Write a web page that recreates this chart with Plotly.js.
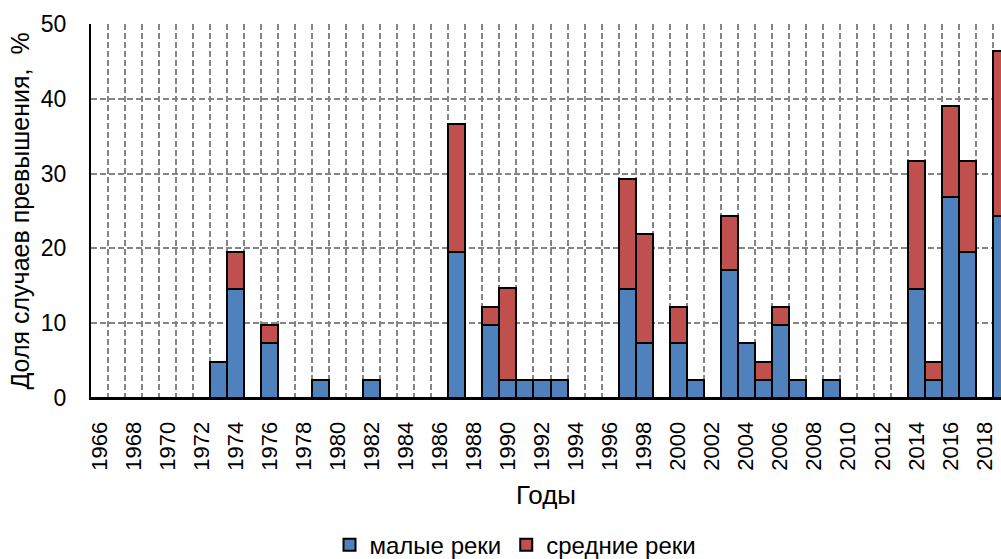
<!DOCTYPE html>
<html>
<head>
<meta charset="utf-8">
<script src="https://cdn.plot.ly/plotly-3.0.1.min.js"></script>
<style>html,body{margin:0;padding:0;background:#fff;}#chart{width:1001px;height:559px;}</style>
</head>
<body>
<div id="chart"></div>
<script>
const years = [1966,1967,1968,1969,1970,1971,1972,1973,1974,1975,1976,1977,1978,1979,1980,1981,1982,1983,1984,1985,1986,1987,1988,1989,1990,1991,1992,1993,1994,1995,1996,1997,1998,1999,2000,2001,2002,2003,2004,2005,2006,2007,2008,2009,2010,2011,2012,2013,2014,2015,2016,2017,2018,2019];
const smallRivers = [0,0,0,0,0,0,0,4.88,14.63,0,7.32,0,0,2.44,0,0,2.44,0,0,0,0,19.51,0,9.76,2.44,2.44,2.44,2.44,0,0,0,14.63,7.32,0,7.32,2.44,0,17.07,7.32,2.44,9.76,2.44,0,2.44,0,0,0,0,14.63,2.44,26.83,19.51,0,24.39];
const mediumRivers = [0,0,0,0,0,0,0,0,4.88,0,2.44,0,0,0,0,0,0,0,0,0,0,17.07,0,2.44,12.20,0,0,0,0,0,0,14.63,14.63,0,4.88,0,0,7.32,0,2.44,2.44,0,0,0,0,0,0,0,17.07,2.44,12.20,12.20,0,21.95];
const tickYears = [1966,1968,1970,1972,1974,1976,1978,1980,1982,1984,1986,1988,1990,1992,1994,1996,1998,2000,2002,2004,2006,2008,2010,2012,2014,2016,2018];
const tickLabels = ["1966","1968","1970","1972","1974","1976","1978","1980","1982","1984","1986","1988","1990","1992","1994","1996","1998","2000","2002","2004","2006","2008","2010","2012","2014","2016","2018"];
const seriesNames = ["малые реки", "средние реки"];

const FONT = "Liberation Sans, Arial, sans-serif";
const gridColor = "#858585";

const traces = [
  {type:"bar", x: years, y: smallRivers, name: seriesNames[0],
   marker:{color:"#4F81BD", line:{color:"#000", width:2}}},
  {type:"bar", x: years, y: mediumRivers, name: seriesNames[1],
   marker:{color:"#C0504D", line:{color:"#000", width:2}}}
];

const layout = {
  width:1001, height:559,
  margin:{l:91, r:0, t:24, b:161},
  paper_bgcolor:"#fff", plot_bgcolor:"#fff",
  font:{family:FONT, color:"#000", size:20},
  barmode:"stack", bargap:0,
  showlegend:true,
  legend:{orientation:"h", xref:"container", yref:"container", x:0.515, xanchor:"center", y:0.025, yanchor:"middle",
          font:{family:FONT, size:24, color:"#000"}, traceorder:"normal", itemwidth:30},
  xaxis:{
    range:[1965.5, 2018.97], autorange:false,
    tickvals: tickYears, ticktext: tickLabels, tickangle:-90,
    tickfont:{family:FONT, size:22, color:"#000"},
    ticks:"outside", ticklen:13, tickcolor:"rgba(0,0,0,0)",
    showgrid:false, zeroline:false,
    showline:true, linecolor:"#000", linewidth:2,
    minor:{tick0:1965.5, dtick:1, showgrid:true, gridcolor:gridColor, gridwidth:2, griddash:"6px,3px", ticks:""},
    title:{text:"Годы", font:{family:FONT, size:26, color:"#000"}, standoff:16},
    automargin:false
  },
  yaxis:{
    range:[0,50], autorange:false, dtick:10, tick0:0,
    tickfont:{family:FONT, size:23, color:"#000"},
    ticks:"outside", ticklen:18, tickcolor:"rgba(0,0,0,0)",
    showgrid:true, gridcolor:gridColor, gridwidth:2, griddash:"6px,3px",
    zeroline:false, showline:true, linecolor:"#000", linewidth:2,
    title:{text:"Доля случаев превышения,  %", font:{family:FONT, size:25, color:"#000"}, standoff:4},
    automargin:false
  }
};

Plotly.newPlot("chart", traces, layout, {displayModeBar:false, staticPlot:true});
</script>
</body>
</html>
